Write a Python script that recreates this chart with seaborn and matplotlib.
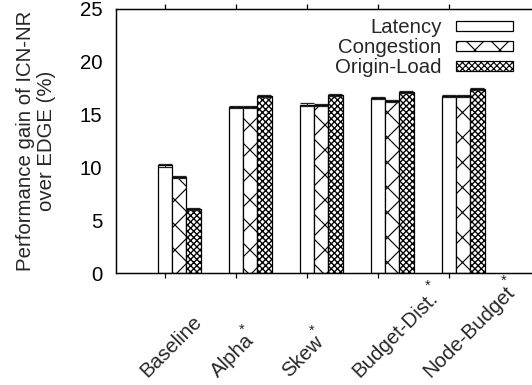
import numpy as np
import pandas as pd
import matplotlib
matplotlib.use("Agg")
import matplotlib.pyplot as plt
import matplotlib.transforms as mtransforms
import seaborn as sns

# ---- data ----
scenarios = ["Baseline", "Alpha", "Skew", "Budget-Dist.", "Node-Budget"]
starred = [False, True, True, True, True]
metrics = ["Latency", "Congestion", "Origin-Load"]
latency = [10.2, 15.75, 15.95, 16.6, 16.8]
congestion = [9.1, 15.72, 15.88, 16.28, 16.78]
origin_load = [6.1, 16.75, 16.85, 17.12, 17.4]
latency_err = [0.12, 0.12, 0.12, 0.12, 0.10]
congestion_err = [0.12, 0.12, 0.10, 0.10, 0.10]
origin_err = [0.08, 0.10, 0.10, 0.10, 0.10]
yticks = [0, 5, 10, 15, 20, 25]

values = {"Latency": latency, "Congestion": congestion, "Origin-Load": origin_load}
errors = {"Latency": latency_err, "Congestion": congestion_err, "Origin-Load": origin_err}
df = pd.DataFrame(
    [(s, m, values[m][i]) for m in metrics for i, s in enumerate(scenarios)],
    columns=["scenario", "metric", "gain"],
)

sns.set_style("white")
plt.rcParams["font.family"] = ["Liberation Sans", "DejaVu Sans"]
plt.rcParams["hatch.linewidth"] = 0.55
plt.rcParams["hatch.color"] = "black"

DPI = 150
fig = plt.figure(figsize=(532 / DPI, 385 / DPI), dpi=DPI)
ax = fig.add_axes([116 / 532, 1 - 273.3 / 385, 1 - 116 / 532, (273.3 - 9) / 385])

sns.barplot(
    data=df, x="scenario", y="gain", hue="metric", hue_order=metrics,
    order=scenarios, width=0.6, errorbar=None, legend=False,
    palette=["white", "white", "white"], saturation=1, ax=ax,
)

hatches = ["", "xx", "xxxxxxxx"]
hatch_lw = [0.55, 0.55, 0.65]
for cont, h, hl, m in zip(ax.containers, hatches, hatch_lw, metrics):
    xs, ys = [], []
    for p in cont.patches:
        p.set_facecolor("white")
        p.set_edgecolor("black")
        p.set_linewidth(0.6)
        p.set_hatch(h)
        if hasattr(p, "set_hatch_linewidth"):
            p.set_hatch_linewidth(hl)
        xs.append(p.get_x() + p.get_width() / 2)
        ys.append(p.get_height())
    ax.errorbar(xs, ys, yerr=errors[m], fmt="none", ecolor="#222222",
                elinewidth=0.6, capsize=3.2, capthick=0.6, zorder=5)

# tick positions at the first bar of each group
first_centers = [p.get_x() + p.get_width() / 2 for p in ax.containers[0].patches]
bar_w = ax.containers[0].patches[0].get_width()
unit = bar_w / 14.2  # data units per pixel
ax.set_xticks(first_centers)
ax.set_xticklabels([])
ax.set_xlim(first_centers[0] - 49 * unit, first_centers[0] + (532 - 165) * unit)
ax.set_ylim(0, 25)
ax.set_yticks(yticks)
ax.set_yticklabels([str(t) for t in yticks])

ax.tick_params(axis="x", which="both", direction="out", length=2.2, width=0.6,
               top=True, bottom=True, labeltop=False, labelbottom=False, color="black")
ax.tick_params(axis="y", length=0, pad=6.5, labelsize=9.8, colors="black")
for s in ["left", "bottom", "top"]:
    ax.spines[s].set_visible(True)
    ax.spines[s].set_color("black")
    ax.spines[s].set_linewidth(0.7)
ax.spines["right"].set_visible(False)

ax.set_xlabel("")
ax.set_ylabel("Performance gain of ICN-NR\nover EDGE (%)", fontsize=9.8,
              linespacing=1.12)
ax.yaxis.set_label_coords((56 - 116) / 416, 0.5)

trans = mtransforms.blended_transform_factory(ax.transData, ax.transAxes)
px_h = 264.3
star_off = [None, (6, 326), (5, 327), (50, 282), (55, 277)]
for i, (name, st) in enumerate(zip(scenarios, starred)):
    ax.text(first_centers[i] - 18 * unit, (273.3 - 378) / px_h, name,
            transform=trans, rotation=45, rotation_mode="anchor",
            ha="left", va="baseline", fontsize=9.8, clip_on=False)
    if st:
        dx, ypx = star_off[i]
        ax.text(first_centers[i] + dx * unit, (273.3 - (ypx + 8)) / px_h, "*",
                transform=trans, ha="center", va="baseline", fontsize=7,
                clip_on=False)

leg = ax.legend(
    handles=list(ax.containers), labels=metrics, loc="upper right",
    bbox_to_anchor=(513 / 532, 1 - 18 / 385), bbox_transform=fig.transFigure,
    frameon=False, markerfirst=False, fontsize=9.8, handlelength=2.8,
    handleheight=0.4, handletextpad=0.7, labelspacing=0.06, borderpad=0,
    borderaxespad=0,
)
for t in leg.get_texts():
    t.set_ha("right")

fig.savefig("out.png", dpi=DPI)
